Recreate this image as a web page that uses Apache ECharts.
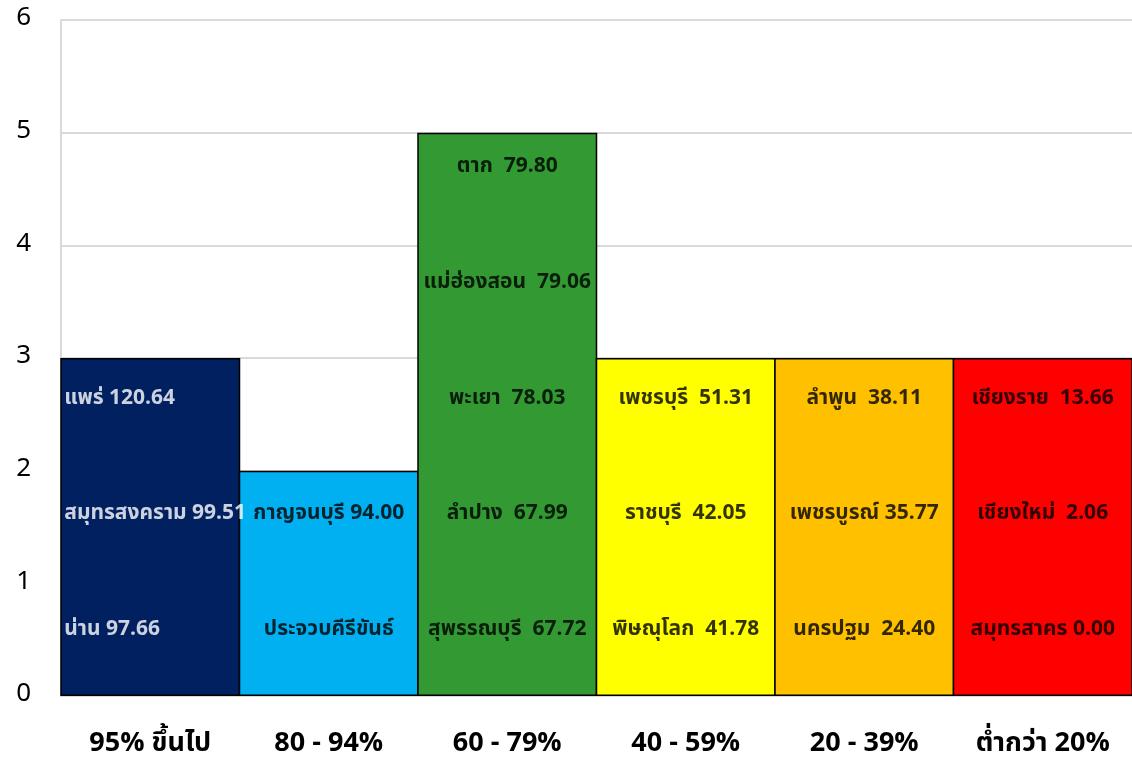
<!DOCTYPE html>
<html>
<head>
<meta charset="utf-8">
<script src="https://cdn.jsdelivr.net/npm/echarts@6/dist/echarts.min.js"></script>
<style>
  html, body { margin: 0; padding: 0; background: #fff; }
  #chart { width: 1132px; height: 761px; }
</style>
</head>
<body>
<div id="chart"></div>
<script>
// group labels on the x axis
const categories = ['95% ขึ้นไป', '80 - 94%', '60 - 79%', '40 - 59%', '20 - 39%', 'ต่ำกว่า 20%'];
// number of provinces in each group (bar height)
const counts = [3, 2, 5, 3, 3, 3];
const barColors = ['#002060', '#00B0F0', '#339933', '#FFFF00', '#FFC000', '#FF0000'];
const labelColors = ['#ffffff', '#000000', '#000000', '#000000', '#000000', '#000000'];
// provinces per group, listed from the bottom of the bar upward
const provinceNames = [
    ['น่าน', 'สมุทรสงคราม', 'แพร่'],
    ['ประจวบคีรีขันธ์', 'กาญจนบุรี'],
    ['สุพรรณบุรี', 'ลำปาง', 'พะเยา', 'แม่ฮ่องสอน', 'ตาก'],
    ['พิษณุโลก', 'ราชบุรี', 'เพชรบุรี'],
    ['นครปฐม', 'เพชรบูรณ์', 'ลำพูน'],
    ['สมุทรสาคร', 'เชียงใหม่', 'เชียงราย']
];
const provinceRates = [
    ['97.66', '99.51', '120.64'],
    [null, '94.00'],
    ['67.72', '67.99', '78.03', '79.06', '79.80'],
    ['41.78', '42.05', '51.31'],
    ['24.40', '35.77', '38.11'],
    ['0.00', '2.06', '13.66']
];
const yTicks = [0, 1, 2, 3, 4, 5, 6];

const labelFont = 'Tahoma, "Noto Sans Thai", "Noto Sans", "DejaVu Sans", sans-serif';

// one label point for each province, sitting inside its slot of the bar
const labelPoints = [];
provinceNames.forEach(function (names, c) {
    names.forEach(function (name, level) {
        const rate = provinceRates[c][level];
        const sep = (c === 0 || c === 1 || (c === 4 && level === 1) || (c === 5 && level === 0)) ? ' ' : '  ';
        const text = rate === null ? name : name + sep + rate;
        const leftAligned = c === 0;
        labelPoints.push({
            value: [c, level + 0.5],
            label: {
                formatter: text,
                color: labelColors[c],
                align: leftAligned ? 'left' : 'center',
                offset: [leftAligned ? -86 : 0, -9 - level * 3]
            }
        });
    });
});

const chart = echarts.init(document.getElementById('chart'), null, { renderer: 'canvas' });

const options = {
    animation: false,
    backgroundColor: '#ffffff',
    grid: {
        left: 61,
        right: 0,
        top: 20,
        bottom: 65,
        containLabel: false
    },
    xAxis: {
        type: 'category',
        data: categories,
        axisLine: { show: true, lineStyle: { color: '#d9d9d9', width: 2 } },
        axisTick: { show: false },
        axisLabel: {
            color: '#000',
            fontSize: 27,
            fontWeight: 'bold',
            fontFamily: labelFont,
            margin: 36
        }
    },
    yAxis: {
        type: 'value',
        min: yTicks[0],
        max: yTicks[yTicks.length - 1],
        interval: 1,
        axisLine: { show: true, lineStyle: { color: '#d9d9d9', width: 2 } },
        axisTick: { show: false },
        splitLine: { lineStyle: { color: '#d9d9d9', width: 2 } },
        axisLabel: {
            color: '#000',
            fontSize: 26,
            fontFamily: labelFont,
            margin: 30
        }
    },
    series: [
        {
            type: 'bar',
            barWidth: 180,
            data: counts.map(function (v, i) {
                return {
                    value: v,
                    itemStyle: { color: barColors[i] }
                };
            }),
            itemStyle: {
                borderColor: '#000',
                borderWidth: 1.5
            },
            z: 2
        },
        {
            type: 'scatter',
            symbolSize: 0,
            data: labelPoints,
            label: {
                show: true,
                position: 'inside',
                fontSize: 21,
                fontWeight: 'bold',
                fontFamily: labelFont,
                textBorderWidth: 0
            },
            z: 5
        }
    ]
};

chart.setOption(options);
</script>
</body>
</html>
